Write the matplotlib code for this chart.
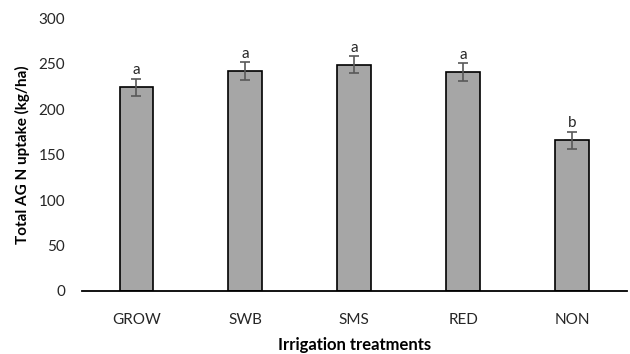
import matplotlib
matplotlib.use("Agg")
import matplotlib.pyplot as plt

categories = ["GROW", "SWB", "SMS", "RED", "NON"]
values = [224, 242, 249, 241, 166]
errors = [9.5, 10, 9.5, 9.7, 9.2]
letters = ["a", "a", "a", "a", "b"]

plt.rcParams['font.family'] = ['Lato', 'DejaVu Sans']

fig = plt.figure(figsize=(6.3, 3.54), dpi=100)
ax = fig.add_axes([0.130, 0.178, 0.865, 0.770])
x = range(len(categories))
ax.bar(x, values, width=0.31, color="#A6A6A6", edgecolor="black", linewidth=1.2, zorder=2)
ax.errorbar(x, values, yerr=errors, fmt="none", ecolor="#595959", elinewidth=1.2, capsize=3.5, capthick=1.2, zorder=3)
for xi, v, e, l in zip(x, values, errors, letters):
    ax.text(xi, v + e + 1.5, l, ha="center", va="bottom", fontsize=11, color="#262626")

ax.set_xlim(-0.5, 4.5)
ax.set_ylim(0, 300)
ax.set_yticks(range(0, 301, 50))
ax.set_xticks(list(x))
ax.set_xticklabels(categories)
for s in ["top", "right", "left"]:
    ax.spines[s].set_visible(False)
ax.spines["bottom"].set_linewidth(1.3)
ax.tick_params(axis="both", length=0, labelsize=11, colors="#262626")
ax.tick_params(axis="x", pad=16)
ax.tick_params(axis="y", pad=12)
ax.set_ylabel("Total AG N uptake (kg/ha)", fontsize=11, fontweight="bold", labelpad=6)
ax.set_xlabel("Irrigation treatments", fontsize=12, fontweight="bold", labelpad=7)
fig.savefig("out.png", dpi=100)
